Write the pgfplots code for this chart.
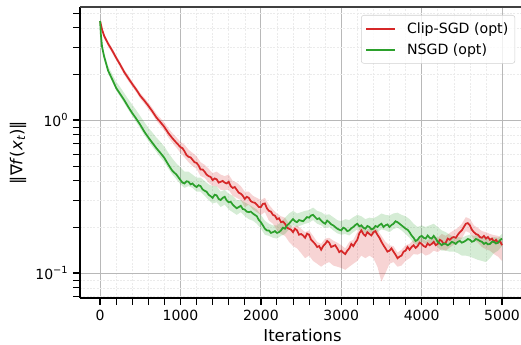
\documentclass[border=0pt]{standalone}
\usepackage{fontspec}
\setmainfont{DejaVu Sans}
\usepackage{pgfplots}
\usepackage{pgfplotstable}
\pgfplotsset{compat=1.18}
\usepgfplotslibrary{fillbetween}
\definecolor{tabred}{HTML}{D62728}
\definecolor{tabgreen}{HTML}{2CA02C}

% band tables: x, lower, upper
\pgfplotstableread{
x lo hi
0 4.30 4.55
25 3.76 4.04
50 3.42 3.68
100 3.03 3.27
150 2.74 2.96
200 2.45 2.65
250 2.21 2.39
300 1.98 2.14
350 1.80 1.96
400 1.65 1.79
450 1.52 1.64
500 1.38 1.50
550 1.28 1.40
600 1.18 1.30
650 1.09 1.20
700 0.99 1.10
750 0.92 1.03
800 0.85 0.96
850 0.77 0.88
900 0.71 0.82
950 0.66 0.77
1000 0.61 0.72
1050 0.57 0.69
1100 0.53 0.64
1150 0.50 0.61
1200 0.48 0.58
1250 0.43 0.53
1300 0.42 0.51
1350 0.39 0.48
1400 0.37 0.45
1450 0.37 0.46
1500 0.35 0.44
1550 0.35 0.43
1600 0.35 0.44
1650 0.32 0.40
1700 0.31 0.39
1750 0.30 0.37
1800 0.27 0.34
1850 0.28 0.34
1900 0.26 0.32
1950 0.25 0.31
2000 0.24 0.30
2050 0.25 0.31
2100 0.22 0.28
2150 0.21 0.26
2200 0.19 0.245
2250 0.18 0.235
2300 0.175 0.23
2350 0.16 0.21
2400 0.15 0.20
2450 0.145 0.205
2500 0.135 0.195
2550 0.125 0.185
2600 0.13 0.19
2650 0.12 0.175
2700 0.115 0.16
2750 0.11 0.155
2800 0.115 0.168
2850 0.118 0.17
2900 0.112 0.163
2950 0.11 0.158
3000 0.108 0.152
3050 0.105 0.145
3100 0.11 0.16
3150 0.115 0.165
3200 0.12 0.185
3250 0.13 0.21
3300 0.125 0.19
3350 0.13 0.195
3400 0.125 0.20
3450 0.11 0.192
3500 0.088 0.175
3550 0.10 0.16
3600 0.115 0.152
3650 0.118 0.15
3700 0.11 0.136
3750 0.112 0.142
3800 0.12 0.152
3850 0.125 0.155
3900 0.133 0.165
3950 0.132 0.163
4000 0.136 0.17
4050 0.13 0.162
4100 0.133 0.167
4150 0.14 0.175
4200 0.137 0.17
4250 0.143 0.18
4300 0.14 0.175
4350 0.147 0.183
4400 0.153 0.19
4450 0.158 0.197
4500 0.168 0.21
4550 0.188 0.232
4600 0.183 0.226
4650 0.165 0.205
4700 0.158 0.197
4750 0.148 0.188
4800 0.143 0.185
4850 0.14 0.18
4900 0.133 0.177
4950 0.128 0.175
5000 0.12 0.168
}\clipband

\pgfplotstableread{
x lo hi
0 4.30 4.55
10 3.5 3.75
25 2.9 3.15
50 2.5 2.75
100 2.02 2.25
150 1.78 2.0
200 1.56 1.78
250 1.42 1.64
300 1.29 1.50
350 1.17 1.37
400 1.06 1.26
450 0.97 1.16
500 0.88 1.06
550 0.80 0.97
600 0.73 0.89
650 0.67 0.83
700 0.62 0.77
750 0.57 0.72
800 0.53 0.67
850 0.48 0.61
900 0.44 0.56
950 0.41 0.52
1000 0.38 0.49
1050 0.36 0.46
1100 0.37 0.46
1150 0.36 0.44
1200 0.34 0.42
1250 0.34 0.42
1300 0.32 0.40
1350 0.30 0.38
1400 0.285 0.37
1450 0.29 0.37
1500 0.27 0.34
1550 0.28 0.35
1600 0.26 0.33
1650 0.25 0.32
1700 0.24 0.30
1750 0.25 0.30
1800 0.235 0.29
1850 0.225 0.28
1900 0.22 0.27
1950 0.21 0.26
2000 0.195 0.24
2050 0.178 0.22
2100 0.175 0.21
2150 0.17 0.205
2200 0.168 0.205
2250 0.175 0.215
2300 0.18 0.23
2350 0.193 0.245
2400 0.205 0.255
2450 0.2 0.245
2500 0.205 0.25
2550 0.21 0.255
2600 0.213 0.258
2650 0.222 0.268
2700 0.21 0.255
2750 0.205 0.25
2800 0.196 0.24
2850 0.2 0.242
2900 0.19 0.232
2950 0.182 0.222
3000 0.178 0.218
3050 0.18 0.225
3100 0.176 0.222
3150 0.185 0.232
3200 0.193 0.24
3250 0.19 0.235
3300 0.182 0.225
3350 0.185 0.23
3400 0.18 0.228
3450 0.185 0.235
3500 0.193 0.245
3550 0.19 0.24
3600 0.185 0.238
3650 0.194 0.245
3700 0.198 0.248
3750 0.19 0.24
3800 0.18 0.235
3850 0.17 0.225
3900 0.157 0.21
3950 0.152 0.2
4000 0.16 0.205
4050 0.155 0.2
4100 0.156 0.205
4150 0.16 0.21
4200 0.147 0.2
4250 0.14 0.19
4300 0.14 0.185
4350 0.138 0.178
4400 0.138 0.172
4450 0.135 0.172
4500 0.13 0.17
4550 0.13 0.175
4600 0.128 0.178
4650 0.125 0.175
4700 0.122 0.178
4750 0.12 0.172
4800 0.118 0.17
4850 0.125 0.168
4900 0.135 0.172
4950 0.14 0.17
5000 0.15 0.18
}\nsgdband

% mean lines: x, m
\pgfplotstableread{
x m
0 4.43
25 3.90
50 3.55
100 3.15
150 2.85
200 2.55
250 2.30
300 2.06
350 1.88
400 1.72
450 1.58
500 1.44
550 1.34
600 1.24
650 1.14
700 1.04
750 0.97
800 0.90
850 0.82
900 0.76
950 0.71
1000 0.665
1025 0.655
1050 0.625
1075 0.59
1100 0.575
1125 0.57
1150 0.55
1175 0.53
1200 0.525
1225 0.505
1250 0.475
1275 0.475
1300 0.46
1325 0.44
1350 0.43
1375 0.425
1400 0.405
1425 0.415
1450 0.41
1475 0.39
1500 0.395
1525 0.40
1550 0.39
1575 0.385
1600 0.395
1625 0.37
1650 0.36
1675 0.365
1700 0.35
1725 0.335
1750 0.33
1775 0.32
1800 0.305
1825 0.315
1850 0.31
1875 0.295
1900 0.29
1925 0.288
1950 0.28
1975 0.27
2000 0.27
2025 0.283
2050 0.285
2075 0.265
2100 0.255
2125 0.252
2150 0.24
2175 0.237
2200 0.225
2225 0.228
2250 0.215
2275 0.217
2300 0.21
2325 0.198
2350 0.195
2375 0.192
2400 0.185
2425 0.195
2450 0.19
2475 0.178
2500 0.18
2525 0.176
2550 0.17
2575 0.181
2600 0.178
2625 0.165
2650 0.16
2675 0.155
2700 0.148
2725 0.15
2750 0.142
2775 0.15
2800 0.155
2825 0.162
2850 0.158
2875 0.148
2900 0.15
2925 0.152
2950 0.145
2975 0.137
3000 0.14
3025 0.136
3050 0.133
3075 0.14
3100 0.145
3125 0.155
3150 0.15
3175 0.158
3200 0.165
3225 0.182
3250 0.19
3275 0.18
3300 0.175
3325 0.185
3350 0.18
3375 0.176
3400 0.185
3425 0.188
3450 0.178
3475 0.17
3500 0.16
3525 0.152
3550 0.145
3575 0.138
3600 0.14
3625 0.145
3650 0.138
3675 0.132
3700 0.125
3725 0.128
3750 0.13
3775 0.138
3800 0.14
3825 0.148
3850 0.142
3875 0.148
3900 0.152
3925 0.146
3950 0.15
3975 0.158
4000 0.155
4025 0.15
4050 0.148
4075 0.156
4100 0.152
4125 0.155
4150 0.16
4175 0.152
4200 0.155
4225 0.165
4250 0.162
4275 0.155
4300 0.158
4325 0.168
4350 0.165
4375 0.17
4400 0.172
4425 0.17
4450 0.178
4475 0.185
4500 0.19
4525 0.2
4550 0.21
4575 0.212
4600 0.205
4625 0.192
4650 0.185
4675 0.18
4700 0.178
4725 0.172
4750 0.17
4775 0.175
4800 0.168
4825 0.172
4850 0.165
4875 0.168
4900 0.16
4925 0.165
4950 0.158
4975 0.162
5000 0.152
}\clipline

\pgfplotstableread{
x m
0 4.43
10 3.6
25 3.0
50 2.6
100 2.1
150 1.85
200 1.62
250 1.48
300 1.35
350 1.22
400 1.11
450 1.02
500 0.93
550 0.84
600 0.77
650 0.71
700 0.655
750 0.61
800 0.565
850 0.51
900 0.465
950 0.44
1000 0.405
1025 0.39
1050 0.385
1075 0.398
1100 0.395
1125 0.38
1150 0.385
1175 0.372
1200 0.365
1225 0.375
1250 0.37
1275 0.352
1300 0.345
1325 0.34
1350 0.325
1375 0.318
1400 0.31
1425 0.325
1450 0.322
1475 0.305
1500 0.30
1525 0.31
1550 0.315
1575 0.298
1600 0.29
1625 0.292
1650 0.28
1675 0.272
1700 0.265
1725 0.27
1750 0.275
1775 0.262
1800 0.26
1825 0.252
1850 0.25
1875 0.252
1900 0.245
1925 0.24
1950 0.235
1975 0.222
2000 0.215
2025 0.205
2050 0.195
2075 0.19
2100 0.19
2125 0.183
2150 0.185
2175 0.188
2200 0.183
2225 0.185
2250 0.19
2275 0.198
2300 0.195
2325 0.205
2350 0.21
2375 0.218
2400 0.225
2425 0.218
2450 0.215
2475 0.222
2500 0.22
2525 0.218
2550 0.225
2575 0.232
2600 0.23
2625 0.238
2650 0.24
2675 0.232
2700 0.225
2725 0.228
2750 0.22
2775 0.214
2800 0.21
2825 0.22
2850 0.215
2875 0.208
2900 0.205
2925 0.2
2950 0.195
2975 0.192
3000 0.19
3025 0.198
3050 0.195
3075 0.188
3100 0.19
3125 0.196
3150 0.2
3175 0.206
3200 0.21
3225 0.202
3250 0.205
3275 0.198
3300 0.195
3325 0.203
3350 0.2
3375 0.193
3400 0.195
3425 0.203
3450 0.2
3475 0.206
3500 0.21
3525 0.2
3550 0.205
3575 0.208
3600 0.2
3625 0.206
3650 0.21
3675 0.218
3700 0.215
3725 0.21
3750 0.205
3775 0.2
3800 0.195
3825 0.192
3850 0.185
3875 0.176
3900 0.17
3925 0.162
3950 0.165
3975 0.172
4000 0.175
4025 0.17
4050 0.168
4075 0.176
4100 0.17
4125 0.168
4150 0.175
4175 0.168
4200 0.16
4225 0.156
4250 0.152
4275 0.156
4300 0.155
4325 0.152
4350 0.155
4375 0.16
4400 0.158
4425 0.155
4450 0.16
4475 0.162
4500 0.158
4525 0.16
4550 0.163
4575 0.167
4600 0.165
4625 0.16
4650 0.162
4675 0.167
4700 0.165
4725 0.162
4750 0.16
4775 0.155
4800 0.158
4825 0.154
4850 0.155
4875 0.16
4900 0.16
4925 0.156
4950 0.158
4975 0.164
5000 0.168
}\nsgdline

\begin{document}
\begin{tikzpicture}
\begin{axis}[
  at={(0,0)}, anchor=south west,
  scale only axis,
  width=333.75pt, height=218.25pt,
  ymode=log,
  xmin=-250, xmax=5286,
  ymin=0.0687, ymax=5.48,
  axis x line*=bottom, axis y line*=left,
  axis line style={black, line width=1.1pt, -},
  tick align=outside,
  xtick={0,1000,2000,3000,4000,5000},
  minor x tick num=4,
  ytick={0.1,1},
  yticklabels={10\textsuperscript{−1},10\textsuperscript{0}},
  minor ytick={0.07,0.08,0.09,0.2,0.3,0.4,0.5,0.6,0.7,0.8,0.9,2,3,4,5},
  major tick length=5.25pt, minor tick length=5pt,
  every major tick/.style={black, line width=1pt},
  every minor tick/.style={black, line width=0.7pt},
  xmajorgrids, ymajorgrids, xminorgrids, yminorgrids,
  major grid style={black!28, line width=0.6pt},
  minor grid style={black!8, line width=0.4pt, dash pattern=on 1.5pt off 1pt},
  /pgf/number format/assume math mode=true,
  /pgf/number format/1000 sep={},
  ticklabel style={font=\fontsize{10.5}{12}\selectfont},
  xlabel={Iterations},
  ylabel={‖∇\textit{f}(\textit{x}\textsubscript{\textit{t}})‖},
  label style={font=\fontsize{12.3}{14}\selectfont},
  xlabel style={at={(axis description cs:0.5,-0.127)}, anchor=center},
  ylabel style={at={(axis description cs:-0.139,0.5)}, anchor=center},
  legend style={at={(0.978,0.9725)}, anchor=north east,
    font=\fontsize{10.6}{12}\selectfont,
    draw=black!18, rounded corners=2pt, fill=white, fill opacity=0.8, text opacity=1,
    inner xsep=3pt, inner ysep=3.5pt, row sep=2pt},
  legend cell align=left,
  legend image code/.code={\draw[#1] (0pt,0pt) -- (22pt,0pt); \path (28pt,0pt);},
  clip=true,
]
\addlegendimage{tabred, line width=1.3pt}
\addlegendentry{Clip-SGD (opt)}
\addlegendimage{tabgreen, line width=1.3pt}
\addlegendentry{NSGD (opt)}
\addplot[name path=rlo, draw=none, forget plot] table[x=x,y=lo]{\clipband};
\addplot[name path=rhi, draw=none, forget plot] table[x=x,y=hi]{\clipband};
\addplot[tabred, fill opacity=0.2, draw=none, forget plot] fill between[of=rhi and rlo];
\addplot[tabred, line width=1.3pt, forget plot] table[x=x,y=m]{\clipline};
\addplot[name path=glo, draw=none, forget plot] table[x=x,y=lo]{\nsgdband};
\addplot[name path=ghi, draw=none, forget plot] table[x=x,y=hi]{\nsgdband};
\addplot[tabgreen, fill opacity=0.2, draw=none, forget plot] fill between[of=ghi and glo];
\addplot[tabgreen, line width=1.3pt, forget plot] table[x=x,y=m]{\nsgdline};
\draw[black!75, line width=1pt] (rel axis cs:0,1) -- (rel axis cs:1,1);
\end{axis}
\pgfresetboundingbox
\path (-60pt,-35.25pt) rectangle (330.75pt,223.5pt);
\end{tikzpicture}
\end{document}
